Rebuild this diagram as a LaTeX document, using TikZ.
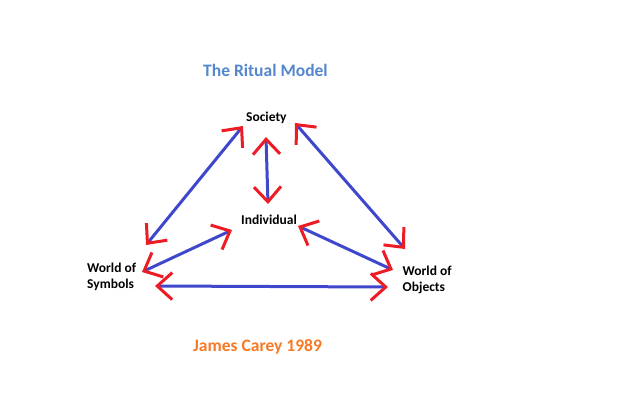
\documentclass[tikz,border=0pt]{standalone}
\usepackage{fontspec}
\setmainfont{Carlito}
\usetikzlibrary{arrows.meta}
\definecolor{pblue}{RGB}{63,72,204}
\definecolor{pred}{RGB}{237,28,36}
\definecolor{tblue}{RGB}{84,135,205}
\definecolor{torange}{RGB}{247,121,35}
\tikzset{
  rb/.tip={Straight Barb[color=pred,length=15pt,width=27pt,line width=3pt]},
  lbl/.style={font=\fontsize{13.5}{16}\selectfont\bfseries, inner sep=0pt, align=left},
  ttl/.style={font=\fontsize{17.5}{20}\selectfont\bfseries, inner sep=0pt},
  link/.style={draw=pblue, line width=3pt, {rb}-{rb}},
}
\begin{document}
\begin{tikzpicture}[x=1pt,y=-1pt]
\useasboundingbox (0,0) rectangle (640,400);
\node[ttl, text=tblue, anchor=base west] (title) at (203,76.5) {The Ritual Model};
\node[ttl, text=torange, anchor=base west] (author) at (193,351) {James Carey 1989};
\node[lbl, anchor=base west] (soc) at (246,121) {Society};
\node[lbl, anchor=base west] (ind) at (241,224) {Individual};
\node[lbl, anchor=base west] (sym) at (87,288) {World of\\Symbols};
\node[lbl, anchor=base west] (obj) at (402.5,291.5) {World of\\Objects};
\coordinate (s1) at (243,126);
\coordinate (y1) at (146,245);
\coordinate (s2) at (295,123);
\coordinate (o1) at (405,249);
\coordinate (s3) at (266,137);
\coordinate (i1) at (268,204);
\coordinate (i2) at (232,230);
\coordinate (y2) at (142,272);
\coordinate (i3) at (298,226);
\coordinate (o2) at (393,270);
\coordinate (y3) at (155,286);
\coordinate (o3) at (388,287);
\draw[link] (s1) -- (y1);
\draw[link] (s2) -- (o1);
\draw[link] (s3) -- (i1);
\draw[link] (i2) -- (y2);
\draw[link] (i3) -- (o2);
\draw[link] (y3) -- (o3);
\end{tikzpicture}
\end{document}
